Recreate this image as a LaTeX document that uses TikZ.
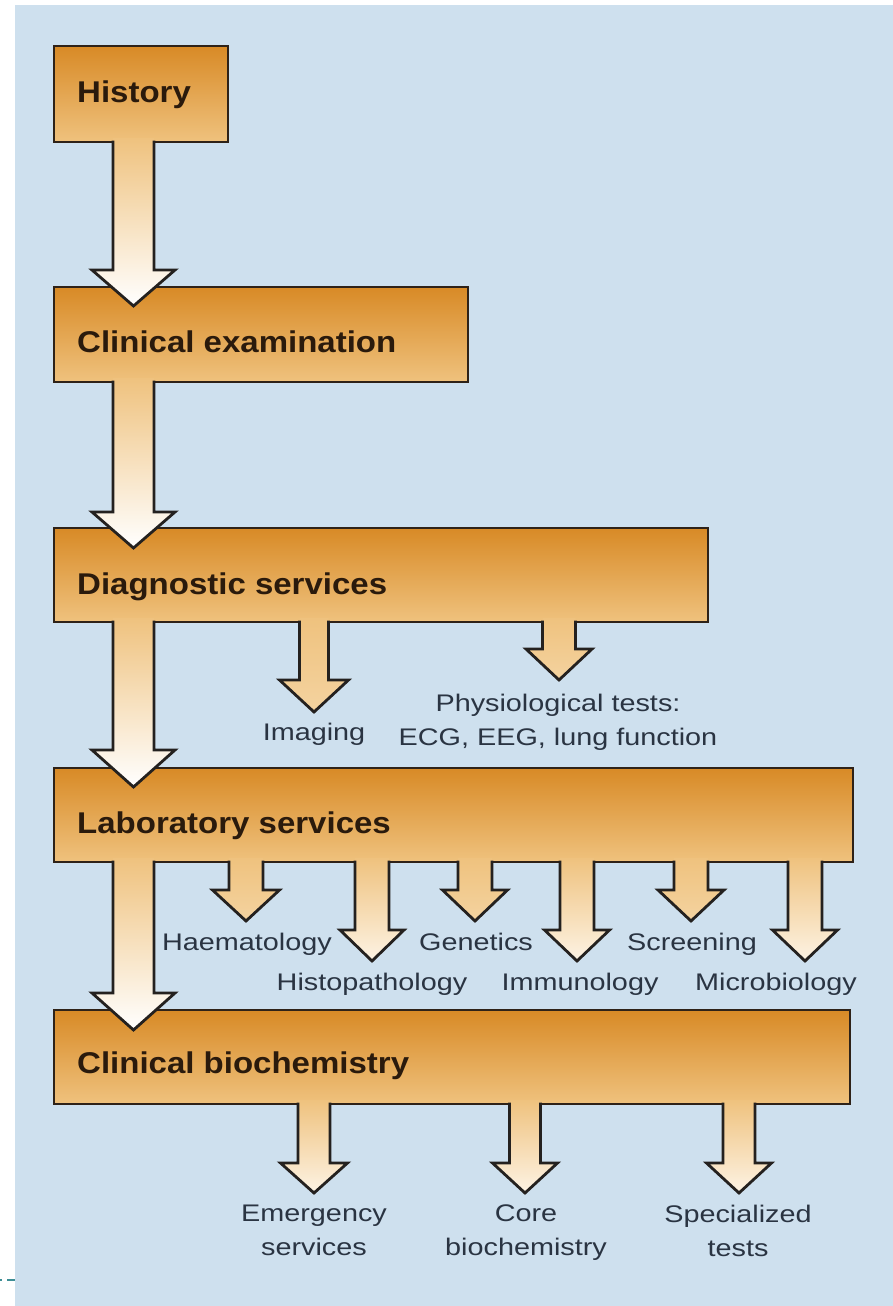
\documentclass[tikz,border=0pt]{standalone}
\usepackage{fontspec}
\setmainfont{Liberation Sans}
\newfontfamily\boxfont[FakeStretch=1.1]{Liberation Sans}
\newfontfamily\subfont[FakeStretch=1.2]{Liberation Sans}
\usetikzlibrary{calc}
\definecolor{bg}{HTML}{CEE0EE}
\definecolor{boxtop}{HTML}{D88A26}
\definecolor{boxbot}{HTML}{EFC27E}
\definecolor{boxline}{HTML}{2E2218}
\definecolor{arrline}{HTML}{24211F}
\definecolor{boxtext}{HTML}{2A1A0C}
\definecolor{subtext}{HTML}{2A3442}
\definecolor{dashc}{HTML}{3E8E95}
\definecolor{paleorange}{HTML}{F4D3A0}
\definecolor{paleend}{HTML}{FDF3E4}
\tikzset{
  box/.style={draw=boxline, line width=2.8pt, top color=boxtop, bottom color=boxbot,
    anchor=north west, inner sep=0pt, outer sep=0pt},
  boxlabel/.style={anchor=base west, inner sep=0pt, text=boxtext,
    font=\boxfont\bfseries\fontsize{30}{36}\selectfont},
  sublabel/.style={anchor=north, inner sep=0pt, text=subtext, align=center,
    font=\subfont\fontsize{24}{34}\selectfont,
    execute at begin node={\rule{0pt}{18pt}}},
  arrowline/.style={draw=arrline, line width=2.8pt, line join=miter, line cap=butt},
}
% #1 source box, #2 tip coordinate, #3 half shaft, #4 half head, #5 head depth, #6 end colour
\newcommand\blockarrow[6]{%
  \path (#1.south -| #2) coordinate (#2s);
  \shade[top color=boxbot, bottom color=#6]
    ($(#2s)+(-#3,-4)$) -- ($(#2)+(-#3,-#5)$) -- ($(#2)+(-#4,-#5)$) -- (#2)
    -- ($(#2)+(#4,-#5)$) -- ($(#2)+(#3,-#5)$) -- ($(#2s)+(#3,-4)$) -- cycle;
  \draw[arrowline] ($(#2s)+(-#3,-1.4)$) -- ($(#2)+(-#3,-#5)$) -- ($(#2)+(-#4,-#5)$) -- (#2)
    -- ($(#2)+(#4,-#5)$) -- ($(#2)+(#3,-#5)$) -- ($(#2s)+(#3,-1.4)$);
}
\begin{document}
\begin{tikzpicture}[x=1pt,y=-1pt]
\useasboundingbox (0,0) rectangle (893,1306);
\fill[white] (0,0) rectangle (893,1306);
\fill[bg] (15,5) rectangle (893,1306);
\draw[dashc, line width=2pt] (0,1280) -- (2,1280);
\draw[dashc, line width=2pt] (7,1280) -- (15,1280);

% boxes
\node[box, minimum width=174, minimum height=96] (history) at (54,46) {};
\node[box, minimum width=414, minimum height=95] (clinical) at (54,287) {};
\node[box, minimum width=654, minimum height=94] (diag) at (54,528) {};
\node[box, minimum width=799, minimum height=94] (lab) at (54,768) {};
\node[box, minimum width=796, minimum height=94] (biochem) at (54,1010) {};

% tips
\coordinate (t1) at (133.5,306);
\coordinate (t2) at (133.5,548);
\coordinate (t3) at (133.5,787);
\coordinate (t4) at (133.5,1030);
\coordinate (timg) at (314,712);
\coordinate (tphys) at (559,680);
\coordinate (thaem) at (246,921);
\coordinate (thisto) at (372,961);
\coordinate (tgen) at (475,921);
\coordinate (timmu) at (577,961);
\coordinate (tscr) at (691,921);
\coordinate (tmicro) at (805,961);
\coordinate (temer) at (314,1193);
\coordinate (tcore) at (525,1193);
\coordinate (tspec) at (739,1193);

% main arrows
\blockarrow{history}{t1}{20.5}{41.5}{36}{white}
\blockarrow{clinical}{t2}{20.5}{41.5}{36}{white}
\blockarrow{diag}{t3}{20.5}{41.5}{37}{white}
\blockarrow{lab}{t4}{20.5}{41.5}{37}{white}

% branch arrows
\blockarrow{diag}{timg}{14.5}{34.5}{32}{paleorange}
\blockarrow{diag}{tphys}{16.5}{33}{31}{paleorange}
\blockarrow{lab}{thaem}{17}{33.5}{31}{paleorange}
\blockarrow{lab}{thisto}{17}{32}{31}{paleend}
\blockarrow{lab}{tgen}{17}{32.5}{31}{paleorange}
\blockarrow{lab}{timmu}{17}{32.5}{31}{paleend}
\blockarrow{lab}{tscr}{17}{33}{31}{paleorange}
\blockarrow{lab}{tmicro}{17}{32.5}{31}{paleend}
\blockarrow{biochem}{temer}{16}{33.5}{30}{paleend}
\blockarrow{biochem}{tcore}{15.5}{32.5}{30}{paleend}
\blockarrow{biochem}{tspec}{16}{32.5}{30}{paleend}

% box labels
\node[boxlabel] (lhistory) at (77,102) {History};
\node[boxlabel] (lclinical) at (77,352) {Clinical examination};
\node[boxlabel] (ldiag) at (77,594) {Diagnostic services};
\node[boxlabel] (llab) at (77,833) {Laboratory services};
\node[boxlabel] (lbiochem) at (77,1073) {Clinical biochemistry};

% branch labels (north = first baseline - 18)
\node[sublabel] (limg) at (314,722) {Imaging};
\node[sublabel] (lphys) at (558,694) {Physiological tests:\\ECG, EEG, lung function};
\node[sublabel] (lhaem) at (247,932) {Haematology};
\node[sublabel] (lhisto) at (372,972) {Histopathology};
\node[sublabel] (lgen) at (476,932) {Genetics};
\node[sublabel] (limmu) at (580,972) {Immunology};
\node[sublabel] (lscr) at (692,932) {Screening};
\node[sublabel] (lmicro) at (776,972) {Microbiology};
\node[sublabel] (lemer) at (314,1205) {Emergency\\services};
\node[sublabel] (lcore) at (526,1205) {Core\\biochemistry};
\node[sublabel] (lspec) at (738,1205) {Specialized\\tests};
\end{tikzpicture}
\end{document}
